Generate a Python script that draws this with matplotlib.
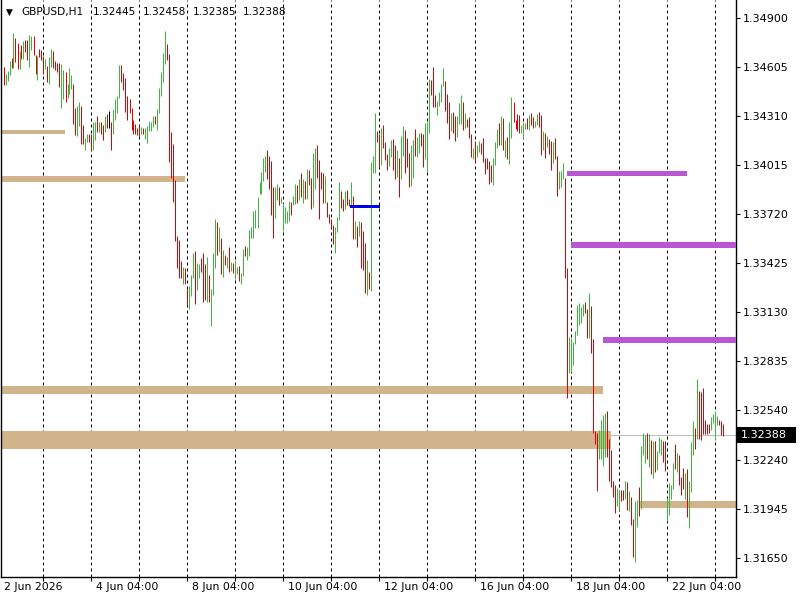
import matplotlib
matplotlib.use("Agg")
import matplotlib.pyplot as plt
import matplotlib.transforms as mtransforms
from matplotlib.patches import Rectangle

# ---------------- data ----------------
highs = [
 1.34605, 1.34563, 1.34581, 1.34641, 1.34659, 1.34809, 1.34779, 1.34749, 1.34701, 1.34737,
 1.34761, 1.34767, 1.34767, 1.34797, 1.34791, 1.34791, 1.34677, 1.34671, 1.34713, 1.34707,
 1.34671, 1.34653, 1.34611, 1.34665, 1.34713, 1.34701, 1.34641, 1.34629, 1.34629, 1.34623,
 1.34587, 1.34575, 1.34502, 1.34599, 1.34557, 1.34502, 1.34358, 1.34370, 1.34394, 1.34370,
 1.34256, 1.34177, 1.34201, 1.34201, 1.34201, 1.34274, 1.34274, 1.34310, 1.34274, 1.34274,
 1.34256, 1.34310, 1.34322, 1.34340, 1.34274, 1.34352, 1.34412, 1.34430, 1.34617, 1.34617,
 1.34569, 1.34538, 1.34430, 1.34412, 1.34358, 1.34286, 1.34262, 1.34237, 1.34262, 1.34243,
 1.34237, 1.34237, 1.34250, 1.34280, 1.34274, 1.34310, 1.34310, 1.34352, 1.34478, 1.34575,
 1.34689, 1.34821, 1.34743, 1.34683, 1.34213, 1.34141, 1.33924, 1.33587, 1.33563, 1.33437,
 1.33401, 1.33395, 1.33268, 1.33286, 1.33353, 1.33485, 1.33497, 1.33425, 1.33419, 1.33455,
 1.33485, 1.33419, 1.33461, 1.33353, 1.33268, 1.33485, 1.33690, 1.33672, 1.33642, 1.33575,
 1.33503, 1.33473, 1.33461, 1.33521, 1.33431, 1.33425, 1.33443, 1.33401, 1.33407, 1.33365,
 1.33509, 1.33527, 1.33521, 1.33623, 1.33642, 1.33738, 1.33744, 1.33822, 1.33912, 1.33973,
 1.34057, 1.34069, 1.34105, 1.34069, 1.34039, 1.33882, 1.33882, 1.33900, 1.33882, 1.33822,
 1.33786, 1.33762, 1.33738, 1.33798, 1.33792, 1.33828, 1.33900, 1.33894, 1.33930, 1.33967,
 1.33930, 1.33918, 1.33991, 1.33985, 1.33936, 1.34087, 1.34117, 1.34135, 1.34045, 1.33973,
 1.33967, 1.33948, 1.33792, 1.33720, 1.33690, 1.33654, 1.33642, 1.33702, 1.33912, 1.33858,
 1.33810, 1.33858, 1.33864, 1.33810, 1.33912, 1.33828, 1.33678, 1.33648, 1.33678, 1.33672,
 1.33617, 1.33545, 1.33443, 1.33371, 1.34033, 1.34069, 1.34328, 1.34219, 1.34201, 1.34237,
 1.34256, 1.34153, 1.34081, 1.34117, 1.34165, 1.34171, 1.34135, 1.34105, 1.34057, 1.34189,
 1.34250, 1.34225, 1.34177, 1.34087, 1.34135, 1.34165, 1.34231, 1.34183, 1.34207, 1.34207,
 1.34201, 1.34268, 1.34274, 1.34532, 1.34526, 1.34605, 1.34436, 1.34400, 1.34454, 1.34502,
 1.34599, 1.34520, 1.34442, 1.34394, 1.34328, 1.34334, 1.34310, 1.34310, 1.34388, 1.34436,
 1.34394, 1.34328, 1.34292, 1.34304, 1.34201, 1.34117, 1.34159, 1.34135, 1.34159, 1.34147,
 1.34177, 1.34057, 1.34057, 1.34039, 1.34015, 1.34057, 1.34153, 1.34231, 1.34268, 1.34310,
 1.34298, 1.34165, 1.34183, 1.34274, 1.34424, 1.34394, 1.34286, 1.34322, 1.34316, 1.34256,
 1.34274, 1.34268, 1.34298, 1.34316, 1.34328, 1.34304, 1.34280, 1.34322, 1.34334, 1.34316,
 1.34219, 1.34207, 1.34189, 1.34171, 1.34159, 1.34153, 1.34177, 1.34069, 1.33979, 1.33979,
 1.34027, 1.33936, 1.33395, 1.32981, 1.32975, 1.32951, 1.33015, 1.33172, 1.33184, 1.33160,
 1.33178, 1.33190, 1.33148, 1.33244, 1.33166, 1.32967, 1.32413, 1.32401, 1.32419, 1.32480,
 1.32510, 1.32522, 1.32534, 1.32365, 1.32299, 1.32112, 1.32088, 1.32070, 1.32058, 1.32058,
 1.32058, 1.32112, 1.32106, 1.32052, 1.32016, 1.31884, 1.31992, 1.31998, 1.32076, 1.32323,
 1.32401, 1.32389, 1.32401, 1.32395, 1.32359, 1.32353, 1.32353, 1.32293, 1.32377, 1.32365,
 1.32353, 1.32353, 1.32010, 1.32100, 1.32088, 1.32221, 1.32335, 1.32281, 1.32269, 1.32138,
 1.32191, 1.32161, 1.32185, 1.32112, 1.32347, 1.32474, 1.32431, 1.32726, 1.32654, 1.32648,
 1.32672, 1.32480, 1.32456, 1.32456, 1.32498, 1.32516, 1.32534, 1.32504, 1.32480, 1.32474,
 1.32458,
]

lows = [
 1.34496, 1.34496, 1.34520, 1.34557, 1.34599, 1.34599, 1.34635, 1.34593, 1.34593, 1.34653,
 1.34653, 1.34695, 1.34647, 1.34605, 1.34707, 1.34677, 1.34563, 1.34526, 1.34665, 1.34647,
 1.34563, 1.34593, 1.34514, 1.34502, 1.34605, 1.34599, 1.34587, 1.34575, 1.34484, 1.34358,
 1.34412, 1.34394, 1.34418, 1.34442, 1.34472, 1.34262, 1.34195, 1.34189, 1.34250, 1.34141,
 1.34141, 1.34105, 1.34153, 1.34153, 1.34105, 1.34105, 1.34165, 1.34213, 1.34213, 1.34201,
 1.34165, 1.34213, 1.34237, 1.34237, 1.34105, 1.34201, 1.34286, 1.34328, 1.34418, 1.34514,
 1.34466, 1.34334, 1.34286, 1.34328, 1.34225, 1.34201, 1.34201, 1.34195, 1.34189, 1.34201,
 1.34201, 1.34171, 1.34147, 1.34219, 1.34219, 1.34243, 1.34262, 1.34225, 1.34328, 1.34430,
 1.34514, 1.34623, 1.34647, 1.34033, 1.33936, 1.33792, 1.33557, 1.33395, 1.33334, 1.33334,
 1.33298, 1.33298, 1.33178, 1.33148, 1.33226, 1.33334, 1.33178, 1.33262, 1.33334, 1.33371,
 1.33190, 1.33202, 1.33190, 1.33190, 1.33046, 1.33232, 1.33395, 1.33473, 1.33491, 1.33359,
 1.33340, 1.33413, 1.33395, 1.33371, 1.33377, 1.33365, 1.33328, 1.33359, 1.33316, 1.33298,
 1.33346, 1.33467, 1.33443, 1.33467, 1.33575, 1.33575, 1.33635, 1.33635, 1.33840, 1.33840,
 1.33918, 1.33973, 1.33930, 1.33870, 1.33714, 1.33575, 1.33696, 1.33804, 1.33774, 1.33786,
 1.33617, 1.33666, 1.33666, 1.33678, 1.33714, 1.33774, 1.33780, 1.33786, 1.33804, 1.33822,
 1.33786, 1.33810, 1.33810, 1.33894, 1.33750, 1.33762, 1.33870, 1.33936, 1.33690, 1.33870,
 1.33786, 1.33786, 1.33702, 1.33666, 1.33635, 1.33539, 1.33485, 1.33611, 1.33684, 1.33756,
 1.33738, 1.33750, 1.33774, 1.33768, 1.33768, 1.33569, 1.33569, 1.33521, 1.33587, 1.33395,
 1.33383, 1.33244, 1.33232, 1.33268, 1.33256, 1.33967, 1.33967, 1.34153, 1.34003, 1.34015,
 1.34117, 1.34045, 1.33985, 1.34009, 1.34063, 1.33985, 1.33930, 1.33942, 1.33822, 1.33930,
 1.34069, 1.33967, 1.34003, 1.33882, 1.33888, 1.33936, 1.34069, 1.34063, 1.34087, 1.34129,
 1.34003, 1.34051, 1.33973, 1.34207, 1.34436, 1.34364, 1.34364, 1.34316, 1.34370, 1.34394,
 1.34490, 1.34340, 1.34268, 1.34171, 1.34219, 1.34207, 1.34159, 1.34183, 1.34262, 1.34262,
 1.34225, 1.34237, 1.34243, 1.34177, 1.34063, 1.34051, 1.34033, 1.34063, 1.34093, 1.34081,
 1.34033, 1.33961, 1.33991, 1.33900, 1.33912, 1.33894, 1.34015, 1.34117, 1.34135, 1.34135,
 1.34105, 1.34063, 1.34051, 1.34021, 1.34177, 1.34274, 1.34231, 1.34219, 1.34207, 1.34207,
 1.34171, 1.34231, 1.34231, 1.34225, 1.34256, 1.34237, 1.34243, 1.34256, 1.34243, 1.34075,
 1.34105, 1.34057, 1.34123, 1.34081, 1.33985, 1.34027, 1.34051, 1.33828, 1.33870, 1.33882,
 1.33930, 1.33334, 1.32612, 1.32763, 1.32769, 1.32811, 1.32937, 1.32991, 1.33052, 1.33064,
 1.33106, 1.33124, 1.32975, 1.32975, 1.32883, 1.32401, 1.32335, 1.32052, 1.32245, 1.32245,
 1.32203, 1.32257, 1.32257, 1.32112, 1.32076, 1.32016, 1.31920, 1.31962, 1.31938, 1.31992,
 1.31998, 1.32004, 1.31938, 1.31932, 1.31848, 1.31657, 1.31625, 1.31835, 1.31902, 1.31944,
 1.32269, 1.32221, 1.32245, 1.32197, 1.32153, 1.32132, 1.32167, 1.32179, 1.32281, 1.32269,
 1.32227, 1.32173, 1.31872, 1.31908, 1.32004, 1.32064, 1.32185, 1.32167, 1.32088, 1.32028,
 1.32064, 1.32004, 1.31896, 1.31829, 1.32046, 1.32269, 1.32305, 1.32365, 1.32365, 1.32359,
 1.32395, 1.32395, 1.32395, 1.32401, 1.32419, 1.32462, 1.32359, 1.32450, 1.32450, 1.32389,
 1.32385,
]

# bar direction: u = up (close > open), d = down, n = unchanged
directions = "".join([
 "duuududdud", "udduuddudd", "duduuddddu", "uduuudduud", "duudduudud", "dudnduuuud",
 "dddddddddu", "duuuuuduuu", "uudddddddd", "udduuuduud", "dduduuudud", "udududuudu",
 "uduuuuuuuu", "uudddduudu", "uuuuduudud", "ududduuddd", "dudddduuud", "duddududud",
 "dduduuuddu", "ddduuddudu", "uddduuduud", "duuuddduuu", "udddudduuu", "duddduduud",
 "ddddduuudu", "duduuddddu", "uududduudd", "ududdudduu", "udduuuuuuu", "uddudddduu",
 "uuddddduud", "dududduudu", "uudududuuu", "dduuuududd", "duduuududd", "dddduuuuddd",
])

symbol = "GBPUSD,H1"
last_open, last_high, last_low, last_close = 1.32445, 1.32458, 1.32385, 1.32388

# time axis labels (bar index, text)
date_label_bars = [0, 44, 92, 140, 188, 236, 284, 332]
date_labels = ["2 Jun 2026", "4 Jun 04:00", "8 Jun 04:00", "10 Jun 04:00",
               "12 Jun 04:00", "16 Jun 04:00", "18 Jun 04:00", "22 Jun 04:00"]
# day separators (bar index)
day_sep_bars = [20, 44, 68, 92, 116, 140, 164, 188, 212, 236, 260, 284, 308, 332, 356]

price_ticks = [1.34900, 1.34605, 1.34310, 1.34015, 1.33720, 1.33425,
               1.33130, 1.32835, 1.32540, 1.32240, 1.31945, 1.31650]
price_tick_labels = ["1.34900", "1.34605", "1.34310", "1.34015", "1.33720", "1.33425",
                     "1.33130", "1.32835", "1.32540", "1.32240", "1.31945", "1.31650"]

# tan supply/demand zones: start bar, end bar, top, bottom
zone_start = [-1.25, -1.25, -1.25, -1.25, 318.25]
zone_end = [30.75, 90.75, 299.75, 303.75, 366.25]
zone_top = [1.34225, 1.33949, 1.32684, 1.32413, 1.31992]
zone_bottom = [1.34201, 1.33912, 1.32636, 1.32305, 1.31950]

# purple levels
level_start = [281.75, 283.75, 299.75]
level_end = [341.75, 366.25, 366.25]
level_top = [1.33979, 1.33551, 1.32980]
level_bottom = [1.33949, 1.33515, 1.32943]

# blue level
blue_start, blue_end = 173.25, 188.25
blue_top, blue_bottom = 1.33774, 1.33756

# ---------------- drawing ----------------
plt.rcParams['font.family'] = ['DejaVu Sans']
W, H = 800, 600
fig = plt.figure(figsize=(8, 6), dpi=100)
fig.patch.set_facecolor('white')
left_px, right_px, top_px, bottom_px = 1, 736, 0, 577
ax = fig.add_axes([left_px / W, (H - bottom_px) / H,
                   (right_px - left_px) / W, (bottom_px - top_px) / H])
ax.set_facecolor('white')

n = len(highs)
idx = list(range(n))
color_map = {'u': '#3cb83c', 'd': '#e30000', 'n': '#000000'}
colors = [color_map[c] for c in directions[:n]]

# day separators
ax.vlines(day_sep_bars, 0, 1, transform=ax.get_xaxis_transform(), colors='black',
          linewidth=0.72, linestyles=(0, (3, 3)), zorder=1)

# current price line
ax.axhline(last_close, color='#c0c0c0', linewidth=0.8, zorder=1.5)

# bars
ax.vlines(idx, lows, highs, colors=colors, linewidth=0.72, zorder=3)

# zones
for x0, x1, t, b in zip(zone_start, zone_end, zone_top, zone_bottom):
    ax.fill_between([x0, x1], [b, b], [t, t], color='#d2b48c', linewidth=0, zorder=2)
for x0, x1, t, b in zip(level_start, level_end, level_top, level_bottom):
    ax.fill_between([x0, x1], [b, b], [t, t], color='#ba55d3', linewidth=0, zorder=4)
ax.fill_between([blue_start, blue_end], [blue_bottom] * 2, [blue_top] * 2,
                color='#0000ee', linewidth=0, zorder=4)

ax.set_xlim((left_px - 3.5) / 2, (right_px - 3.5) / 2)
ax.set_ylim(1.35008 - 0.0000602 * bottom_px, 1.35008)

# axes styling
for s in ['left', 'right', 'bottom']:
    ax.spines[s].set_color('black')
    ax.spines[s].set_linewidth(1.0)
ax.spines['top'].set_visible(False)

ax.yaxis.tick_right()
ax.set_yticks(price_ticks)
ax.set_yticklabels(price_tick_labels)
ax.tick_params(axis='y', direction='out', length=3, width=0.8, pad=2,
               labelsize=8, colors='black')
ax.set_xticks(day_sep_bars)
ax.set_xticklabels([])
ax.tick_params(axis='x', direction='out', length=3, width=0.8)

# date labels
for b, lab in zip(date_label_bars, date_labels):
    off = 0 if b == 0 else 5
    tr = mtransforms.offset_copy(ax.get_xaxis_transform(), fig=fig, x=off, y=-5, units='dots')
    ax.text(b, 0, lab, transform=tr, ha='left', va='top', fontsize=7.8,
            color='black', clip_on=False)

# last price box on the price scale
fig.canvas.draw()
y_pix = ax.transData.transform((0, last_close))[1]
x_pix = ax.transAxes.transform((1, 0))[0]
fig.add_artist(Rectangle((x_pix + 1, y_pix - 8), 59, 16, transform=None,
                         facecolor='black', edgecolor='none', zorder=9))
fig.text((x_pix + 5) / W, y_pix / H, f"{last_close:.5f}", fontsize=8, color='white',
         ha='left', va='center', zorder=10)

# title
fig.text(6 / W, 1 - 12 / H, "\u25bc", fontsize=6.5, va='center', ha='left', color='black')
fig.text(21 / W, 1 - 12 / H, symbol, fontsize=7.6, va='center', ha='left', color='black')
for xp, v in zip([93, 143, 193, 243], [last_open, last_high, last_low, last_close]):
    fig.text(xp / W, 1 - 12 / H, f"{v:.5f}", fontsize=7.6, va='center', ha='left',
             color='black')

fig.savefig('out.png', dpi=100, facecolor='white')
